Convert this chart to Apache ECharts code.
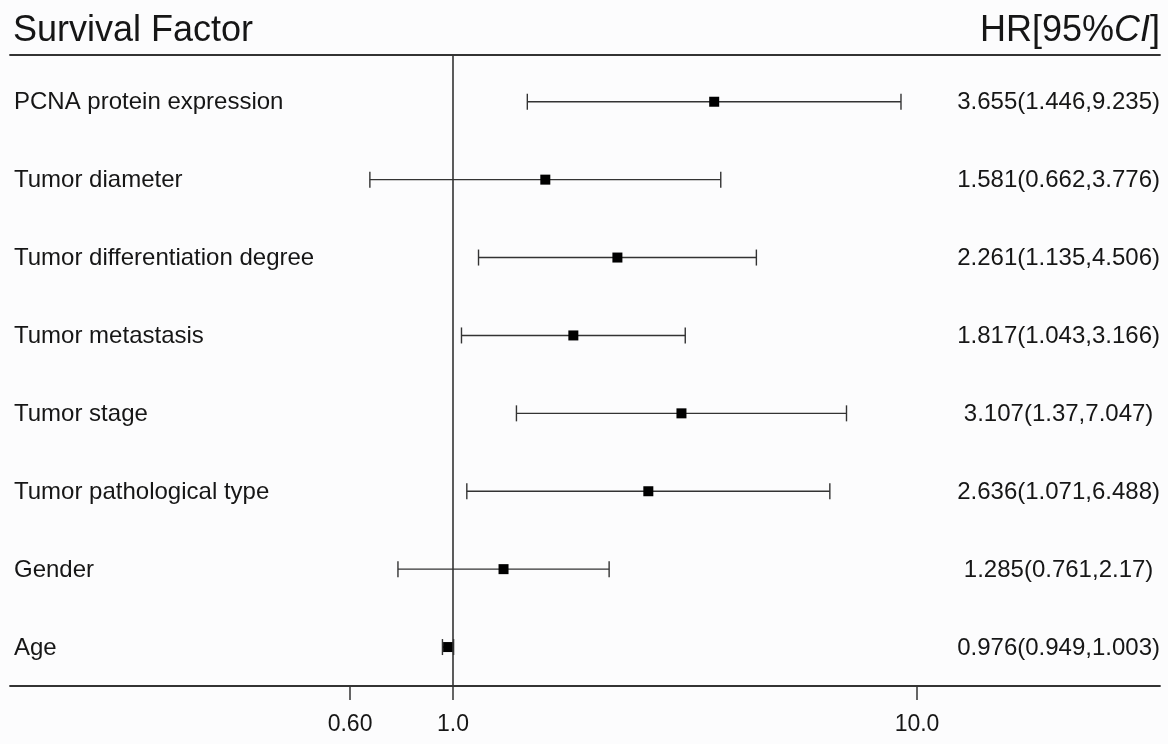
<!DOCTYPE html>
<html>
<head>
<meta charset="utf-8">
<script src="https://cdn.jsdelivr.net/npm/echarts@6/dist/echarts.min.js"></script>
<style>
html,body{margin:0;padding:0;background:#fcfcfd;}
#chart{width:1168px;height:744px;}
</style>
</head>
<body>
<div id="chart"></div>
<script>
const categories = ['PCNA protein expression','Tumor diameter','Tumor differentiation degree','Tumor metastasis','Tumor stage','Tumor pathological type','Gender','Age'];
const hr = [3.655, 1.581, 2.261, 1.817, 3.107, 2.636, 1.285, 0.976];
const lower = [1.446, 0.662, 1.135, 1.043, 1.37, 1.071, 0.761, 0.949];
const upper = [9.235, 3.776, 4.506, 3.166, 7.047, 6.488, 2.17, 1.003];
const hrText = ['3.655(1.446,9.235)','1.581(0.662,3.776)','2.261(1.135,4.506)','1.817(1.043,3.166)','3.107(1.37,7.047) ','2.636(1.071,6.488)','1.285(0.761,2.17) ','0.976(0.949,1.003)'];
const tickValues = [0.6, 1, 10];
const tickLabels = ['0.60','1.0','10.0'];

const FONT = '"Liberation Sans", Arial, Helvetica, sans-serif';
const INK = '#161616';
const LINE = '#333333';

const chart = echarts.init(document.getElementById('chart'));
const seriesData = categories.map((c, i) => [i, hr[i], lower[i], upper[i]]);

function tickLabel(v) {
  let best = 0, bd = Infinity;
  tickValues.forEach((t, k) => { const d = Math.abs(Math.log(t) - Math.log(v)); if (d < bd) { bd = d; best = k; } });
  return tickLabels[best];
}

const xMin = 0.1110, xMax = 33.39;

chart.setOption({
  backgroundColor: '#fcfcfd',
  animation: false,
  title: [
    { text: 'Survival Factor', left: 13, top: 13, padding: 0,
      textStyle: { fontFamily: FONT, fontSize: 36, fontWeight: 'normal', color: INK } },
    { text: 'HR[95%{i|CI}]', right: 8, top: 13, padding: 0,
      textStyle: { fontFamily: FONT, fontSize: 36, fontWeight: 'normal', color: INK,
        rich: { i: { fontFamily: FONT, fontSize: 36, fontStyle: 'italic', color: INK } } } }
  ],
  grid: { left: 10, right: 8, top: 55, bottom: 58 },
  xAxis: [
    { type: 'log', logBase: 10, min: xMin, max: xMax, position: 'bottom',
      axisLine: { show: true, onZero: false, lineStyle: { color: LINE, width: 1.8 } },
      axisTick: { show: true, length: 14, customValues: tickValues, lineStyle: { color: LINE, width: 1.5 } },
      axisLabel: { show: true, customValues: tickValues, margin: 27, formatter: tickLabel,
        fontFamily: FONT, fontSize: 23, color: INK },
      splitLine: { show: false }, minorTick: { show: false } },
    { type: 'log', logBase: 10, min: xMin, max: xMax, position: 'top',
      axisLine: { show: true, onZero: false, lineStyle: { color: LINE, width: 1.8 } },
      axisTick: { show: false }, axisLabel: { show: false }, splitLine: { show: false } }
  ],
  yAxis: { type: 'value', inverse: true, min: -0.6, max: 7.5, show: false },
  series: [{
    type: 'custom',
    xAxisIndex: 0,
    data: seriesData,
    encode: { x: [1, 2, 3], y: 0 },
    clip: false,
    renderItem: function (params, api) {
      const i = api.value(0);
      const p = api.coord([api.value(1), i]);
      const lo = api.coord([api.value(2), i]);
      const up = api.coord([api.value(3), i]);
      const y = p[1];
      const cap = 8;
      const ls = { stroke: LINE, lineWidth: 1.4 };
      const W = api.getWidth();
      return {
        type: 'group',
        children: [
          { type: 'line', shape: { x1: lo[0], y1: y, x2: up[0], y2: y }, style: ls },
          { type: 'line', shape: { x1: lo[0], y1: y - cap, x2: lo[0], y2: y + cap }, style: ls },
          { type: 'line', shape: { x1: up[0], y1: y - cap, x2: up[0], y2: y + cap }, style: ls },
          { type: 'rect', shape: { x: p[0] - 5, y: y - 5, width: 10, height: 10 }, style: { fill: '#000' } },
          { type: 'text', x: 14, y: y + 1, style: { text: categories[params.dataIndex], fontFamily: FONT, fontSize: 24,
              fill: INK, align: 'left', verticalAlign: 'middle' } },
          { type: 'text', x: W - 8, y: y + 1, style: { text: hrText[params.dataIndex], fontFamily: FONT, fontSize: 24,
              fill: INK, align: 'right', verticalAlign: 'middle' } }
        ]
      };
    },
    markLine: {
      silent: true, symbol: ['none', 'none'], label: { show: false },
      lineStyle: { color: LINE, width: 1.6, type: 'solid' },
      data: [{ xAxis: 1 }]
    }
  }]
});
</script>
</body>
</html>
